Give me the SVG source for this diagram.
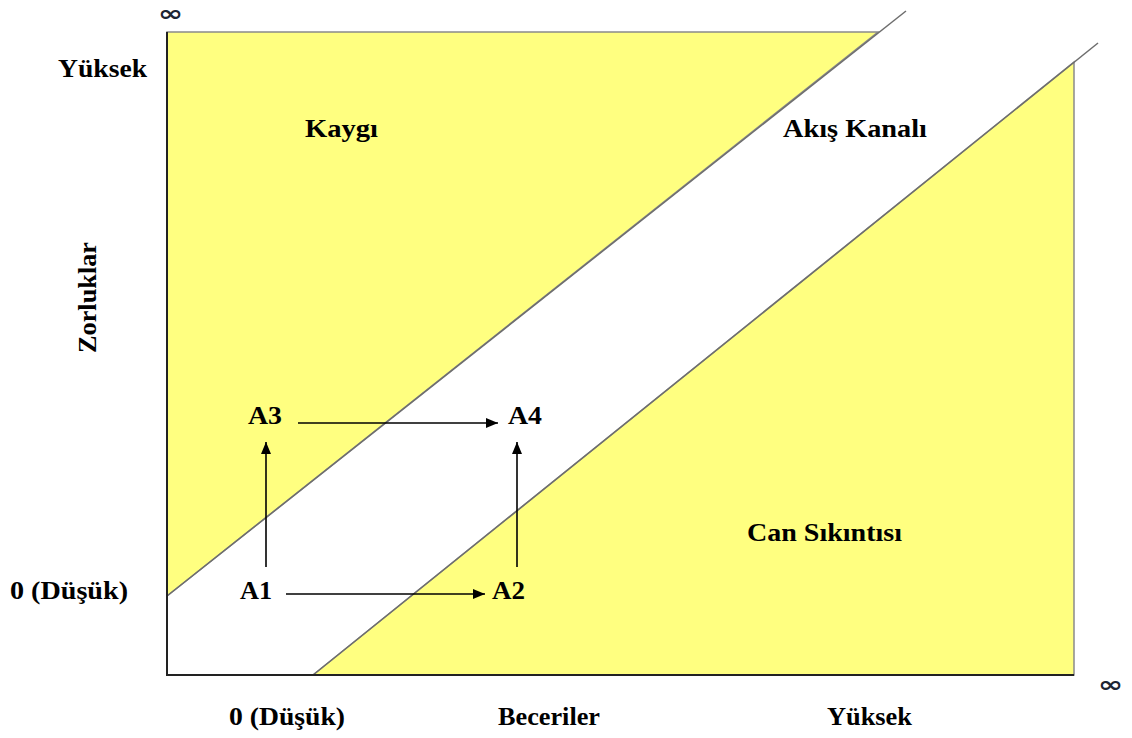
<svg xmlns="http://www.w3.org/2000/svg" width="1132" height="738" viewBox="0 0 1132 738">
<style>
.zone{fill:#FFFF80;stroke:#8a8a8a;stroke-width:1.5}
.diag{stroke:#6e6e6e;stroke-width:1.5;fill:none}
.axis{stroke:#222;stroke-width:2;fill:none}
.lbl{font-family:"Liberation Serif","Times New Roman",serif;font-weight:bold;font-size:26px;fill:#000}
.inf{font-family:"DejaVu Sans",sans-serif;font-weight:bold;font-size:22px;fill:#1c2433}
.arr{stroke:#000;stroke-width:1.6;fill:none;marker-end:url(#ah)}
</style>
<defs>
<marker id="ah" viewBox="0 0 12 10" refX="12" refY="5" markerWidth="12" markerHeight="10" markerUnits="userSpaceOnUse" orient="auto">
<path d="M0,0 L12,5 L0,10 Z" fill="#000"/>
</marker>
</defs>
<rect width="1132" height="738" fill="#fff"/>
<g id="zone-kaygi">
<polygon class="zone" points="167,32 878,32 167,596"/>
</g>
<g id="zone-can-sikintisi">
<polygon class="zone" points="313,675 1074,62 1074,675"/>
</g>
<g id="boundaries">
<line class="diag" x1="167" y1="596" x2="906" y2="11"/>
<line class="diag" x1="313" y1="675" x2="1098" y2="43"/>
<polyline class="axis" points="167,32 167,675 1074,675"/>
</g>
<g id="labels">
<text class="inf" x="158" y="21" textLength="25" lengthAdjust="spacingAndGlyphs">∞</text>
<text class="inf" x="1098" y="692" textLength="25" lengthAdjust="spacingAndGlyphs">∞</text>
<text class="lbl" x="58" y="77" textLength="89" lengthAdjust="spacingAndGlyphs">Yüksek</text>
<text class="lbl" x="10" y="599" textLength="118" lengthAdjust="spacingAndGlyphs">0 (Düşük)</text>
<text class="lbl" x="229" y="725" textLength="116" lengthAdjust="spacingAndGlyphs">0 (Düşük)</text>
<text class="lbl" x="498" y="725" textLength="102" lengthAdjust="spacingAndGlyphs">Beceriler</text>
<text class="lbl" x="827" y="725" textLength="85" lengthAdjust="spacingAndGlyphs">Yüksek</text>
<text class="lbl" transform="translate(96,353) rotate(-90)" textLength="111" lengthAdjust="spacingAndGlyphs">Zorluklar</text>
<text class="lbl" x="305" y="137" textLength="73" lengthAdjust="spacingAndGlyphs">Kaygı</text>
<text class="lbl" x="783" y="137" textLength="144" lengthAdjust="spacingAndGlyphs">Akış Kanalı</text>
<text class="lbl" x="747" y="541" textLength="155" lengthAdjust="spacingAndGlyphs">Can Sıkıntısı</text>
</g>
<g id="node-A1"><text class="lbl" x="240" y="599" textLength="32" lengthAdjust="spacingAndGlyphs">A1</text></g>
<g id="node-A2"><text class="lbl" x="492" y="599" textLength="33" lengthAdjust="spacingAndGlyphs">A2</text></g>
<g id="node-A3"><text class="lbl" x="248" y="424" textLength="34" lengthAdjust="spacingAndGlyphs">A3</text></g>
<g id="node-A4"><text class="lbl" x="508" y="424" textLength="34" lengthAdjust="spacingAndGlyphs">A4</text></g>
<g id="connectors">
<line class="arr" x1="286" y1="594" x2="485" y2="594"/>
<line class="arr" x1="298" y1="423" x2="498" y2="423"/>
<line class="arr" x1="266" y1="567" x2="266" y2="442"/>
<line class="arr" x1="517" y1="567" x2="517" y2="442"/>
</g>
</svg>
